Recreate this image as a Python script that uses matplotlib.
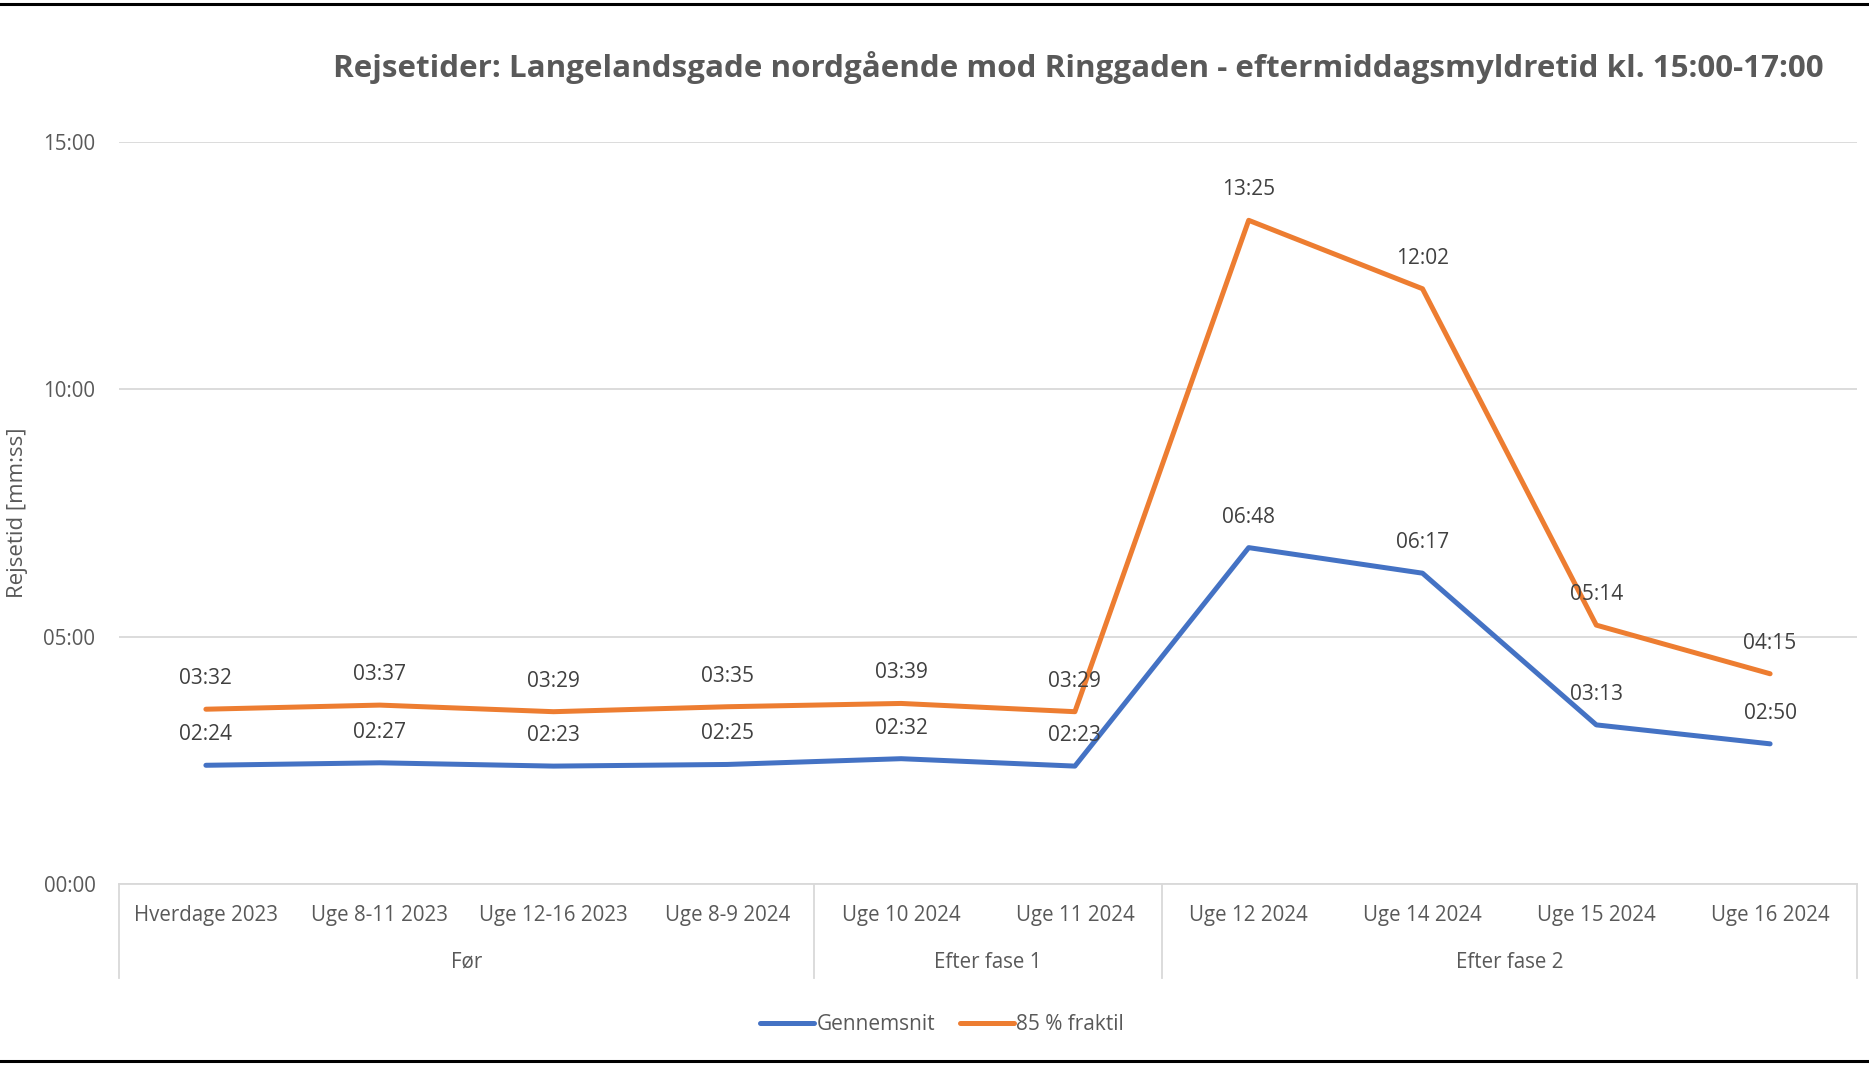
import matplotlib
matplotlib.use("Agg")
import matplotlib.pyplot as plt
from matplotlib.lines import Line2D
from matplotlib.ticker import FuncFormatter, MultipleLocator

# Travel times in seconds
categories = ["Hverdage 2023", "Uge 8-11 2023", "Uge 12-16 2023", "Uge 8-9 2024",
              "Uge 10 2024", "Uge 11 2024", "Uge 12 2024", "Uge 14 2024",
              "Uge 15 2024", "Uge 16 2024"]
groups = ["Før", "Efter fase 1", "Efter fase 2"]
group_sizes = [4, 2, 4]
gennemsnit = [144, 147, 143, 145, 152, 143, 408, 377, 193, 170]
fraktil85 = [212, 217, 209, 215, 219, 209, 805, 722, 314, 255]

TXT = "#595959"
GRID = "#d9d9d9"
BLUE = "#4472C4"
ORANGE = "#ED7D31"
FONT = "Open Sans"

plt.rcParams["font.family"] = [FONT, "DejaVu Sans"]

W, H = 1869, 1066
fig = plt.figure(figsize=(W / 100, H / 100), dpi=100)
ax = fig.add_axes([119 / W, 1 - 884 / H, (1857 - 119) / W, (884 - 142) / H])


def mmss(v, pos=None):
    v = int(round(v))
    return f"{v // 60:02d}:{v % 60:02d}"


x = list(range(len(categories)))
ax.plot(x, gennemsnit, color=BLUE, lw=3.6, solid_capstyle="round", zorder=3)
ax.plot(x, fraktil85, color=ORANGE, lw=3.6, solid_capstyle="round", zorder=3)

for series in (gennemsnit, fraktil85):
    for xi, v in zip(x, series):
        ax.annotate(mmss(v), (xi, v), xytext=(0, 22), textcoords="offset points",
                    ha="center", va="center", fontsize=15, color="#404040", zorder=4)

ax.set_xlim(-0.5, len(categories) - 0.5)
ax.set_ylim(0, 900)
ax.yaxis.set_major_locator(MultipleLocator(300))
ax.yaxis.set_major_formatter(FuncFormatter(mmss))
ax.grid(axis="y", color=GRID, lw=1.3)
ax.set_axisbelow(True)
for s in ["top", "right", "left"]:
    ax.spines[s].set_visible(False)
ax.spines["bottom"].set_color(GRID)
ax.spines["bottom"].set_linewidth(1.3)
ax.tick_params(axis="y", length=0, pad=17, labelsize=14.8, labelcolor=TXT)
ax.set_xticks([])

fig.text(18 / W, 1 - 513 / H, "Rejsetid [mm:ss]", rotation=90, ha="center",
         va="center", fontsize=16, color=TXT)

# Category labels and group labels beneath the axis
trans = ax.get_xaxis_transform()
y_cat = -(916 - 884) / (884 - 142)
y_grp = -(962 - 884) / (884 - 142)
y_sep = -(978 - 884) / (884 - 142)
for xi, c in zip(x, categories):
    ax.text(xi, y_cat, c, transform=trans, ha="center", va="center",
            fontsize=14.8, color=TXT)

start = 0
bounds = [-0.5]
for g, n in zip(groups, group_sizes):
    center = start + (n - 1) / 2
    ax.text(center, y_grp, g, transform=trans, ha="center", va="center",
            fontsize=14.8, color=TXT)
    start += n
    bounds.append(start - 0.5)
for b in bounds:
    ax.add_line(Line2D([b, b], [0, y_sep], transform=trans, color=GRID,
                       lw=1.3, clip_on=False))

fig.text(1078 / W, 1 - 68 / H,
         "Rejsetider: Langelandsgade nordgående mod Ringgaden - eftermiddagsmyldretid kl. 15:00-17:00",
         ha="center", va="center", fontsize=22.6, fontweight="bold", color=TXT)

handles = [Line2D([], [], color=BLUE, lw=3.6, solid_capstyle="round"),
           Line2D([], [], color=ORANGE, lw=3.6, solid_capstyle="round")]
fig.legend(handles, ["Gennemsnit", "85 % fraktil"], loc="center",
           bbox_to_anchor=(942 / W, 1 - 1025 / H), ncol=2, frameon=False,
           fontsize=15, labelcolor=TXT, handlelength=2.6, handletextpad=0.1,
           columnspacing=1.2)

# Frame lines at top and bottom of the image
fig.add_artist(Line2D([0, 1], [1 - 4 / H, 1 - 4 / H], transform=fig.transFigure,
                      color="black", lw=2.2))
fig.add_artist(Line2D([0, 1], [1 - 1061 / H, 1 - 1061 / H], transform=fig.transFigure,
                      color="black", lw=2.2))

fig.savefig("out.png", dpi=100, facecolor="white")
